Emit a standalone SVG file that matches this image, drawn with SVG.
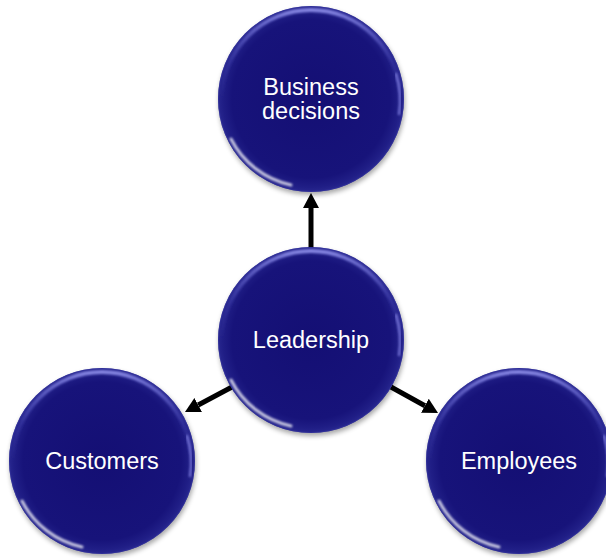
<svg xmlns="http://www.w3.org/2000/svg" xmlns:xlink="http://www.w3.org/1999/xlink" width="606" height="558" viewBox="0 0 606 558">
<style>
.lbl{font-family:"Liberation Sans",Arial,sans-serif;font-size:23.5px;fill:#ffffff;text-anchor:middle}
.conn{stroke:#000;stroke-width:5;fill:none}
</style>
<defs>
<radialGradient id="body" cx="50%" cy="50%" r="50%">
<stop offset="0" stop-color="#140f74"/>
<stop offset="0.85" stop-color="#17137a"/>
<stop offset="0.95" stop-color="#201e86"/>
<stop offset="1" stop-color="#28278f"/>
</radialGradient>
<linearGradient id="rimTop" x1="0" y1="0" x2="0" y2="1">
<stop offset="0" stop-color="#8a8ae6" stop-opacity="0.95"/>
<stop offset="0.3" stop-color="#5050c0" stop-opacity="0.3"/>
<stop offset="0.5" stop-color="#5050c0" stop-opacity="0"/>
<stop offset="1" stop-color="#5050c0" stop-opacity="0"/>
</linearGradient>
<filter id="blur1" x="-20%" y="-20%" width="140%" height="140%"><feGaussianBlur stdDeviation="1.2"/></filter>
<filter id="shadow" x="-20%" y="-20%" width="140%" height="140%"><feGaussianBlur stdDeviation="2.5"/></filter>
<marker id="arr" markerWidth="3" markerHeight="4" refX="0" refY="2" orient="auto" markerUnits="strokeWidth" viewBox="0 0 3 4">
<path d="M0,0.4 L3,2 L0,3.6 z" fill="#000"/>
</marker>
<g id="ball">
<circle cx="1" cy="3" r="93" fill="#000" opacity="0.35" filter="url(#shadow)"/>
<circle r="93" fill="url(#body)"/>
<circle r="89" fill="none" stroke="url(#rimTop)" stroke-width="4" filter="url(#blur1)"/>
<path d="M-80,40 A88,88 0 0 0 -20,86" fill="none" stroke="#ffffff" stroke-width="3" stroke-linecap="round" opacity="0.75" filter="url(#blur1)"/>
<path d="M85,-25 A88,88 0 0 1 88,15" fill="none" stroke="#a0a0ff" stroke-width="2.5" stroke-linecap="round" opacity="0.6" filter="url(#blur1)"/>
<circle r="92.5" fill="none" stroke="#3535a0" stroke-width="1" opacity="0.6"/>
</g>
</defs>
<rect width="606" height="558" fill="#ffffff"/>
<g id="connectors">
<line class="conn" x1="311" y1="249" x2="311" y2="208" marker-end="url(#arr)"/>
<line class="conn" x1="232" y1="387" x2="198.2" y2="405" marker-end="url(#arr)"/>
<line class="conn" x1="391" y1="387" x2="424.9" y2="405.7" marker-end="url(#arr)"/>
</g>
<g id="business">
<use xlink:href="#ball" x="311" y="99"/>
<text class="lbl" x="311" y="95">Business</text>
<text class="lbl" x="311" y="119">decisions</text>
</g>
<g id="leadership">
<use xlink:href="#ball" x="311" y="340"/>
<text class="lbl" x="311" y="348">Leadership</text>
</g>
<g id="customers">
<use xlink:href="#ball" x="102" y="461"/>
<text class="lbl" x="102" y="469">Customers</text>
</g>
<g id="employees">
<use xlink:href="#ball" x="519" y="461"/>
<text class="lbl" x="519" y="469">Employees</text>
</g>
</svg>
